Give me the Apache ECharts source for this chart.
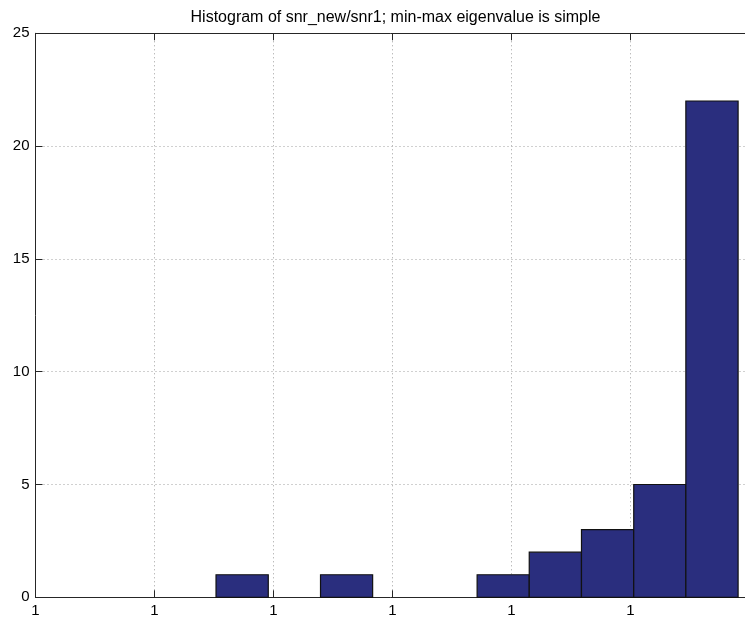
<!DOCTYPE html>
<html>
<head>
<meta charset="utf-8">
<script src="https://cdn.jsdelivr.net/npm/echarts@6/dist/echarts.min.js"></script>
<style>
html,body{margin:0;padding:0;background:#fff;}
#chart{width:745px;height:622px;}
</style>
</head>
<body>
<div id="chart"></div>
<script>
// Chart values (x positions in axis-tick units; every tick is labelled "1")
const titleText = "Histogram of snr_new/snr1; min-max eigenvalue is simple";
const binLeft  = [1.517, 1.956, 2.395, 2.833, 3.272, 3.711, 4.149, 4.588, 5.027, 5.465];
const binRight = [1.956, 2.395, 2.833, 3.272, 3.711, 4.149, 4.588, 5.027, 5.465, 5.904];
const counts   = [1, 0, 1, 0, 0, 1, 2, 3, 5, 22];
const xTickLabel = "1";
const yTicks = [0, 5, 10, 15, 20, 25];

const data = binLeft.map((l, i) => [l, binRight[i], counts[i]]);

const chart = echarts.init(document.getElementById('chart'), null, {renderer: 'canvas'});
const axisCol = '#262626';
const gridLine = {show: true, lineStyle: {color: '#a0a0a0', type: [1, 3], width: 1}};
const font = 'Liberation Sans, Arial, Helvetica, sans-serif';

chart.setOption({
  animation: false,
  backgroundColor: '#fff',
  title: {
    text: titleText, left: 390.5, top: 5, textAlign: 'center',
    textStyle: {fontFamily: font, fontSize: 16, fontWeight: 'normal', color: '#000'}
  },
  grid: {left: 35.5, right: 0, top: 33.3, bottom: 24.7, containLabel: false},
  xAxis: [{
    type: 'value', min: 0, max: 5.962, interval: 1, position: 'bottom',
    axisLine: {show: true, onZero: false, lineStyle: {color: axisCol, width: 1}},
    axisTick: {show: true, inside: true, length: 7, lineStyle: {color: axisCol}},
    axisLabel: {show: true, formatter: () => xTickLabel, margin: 6, color: '#000', fontSize: 15, fontFamily: font, showMaxLabel: false},
    splitLine: gridLine
  }, {
    type: 'value', min: 0, max: 5.962, interval: 1, position: 'top',
    axisLine: {show: true, onZero: false, lineStyle: {color: axisCol, width: 1}},
    axisTick: {show: true, inside: true, length: 7, lineStyle: {color: axisCol}},
    axisLabel: {show: false}, splitLine: {show: false}
  }],
  yAxis: {
    type: 'value', min: yTicks[0], max: yTicks[yTicks.length - 1], interval: 5,
    axisLine: {show: true, onZero: false, lineStyle: {color: axisCol, width: 1}},
    axisTick: {show: true, inside: true, length: 7, lineStyle: {color: axisCol}},
    axisLabel: {color: '#000', fontSize: 15, fontFamily: font, margin: 6},
    splitLine: gridLine
  },
  series: [{
    type: 'custom',
    xAxisIndex: 0,
    data: data,
    renderItem: function (params, api) {
      const c = api.value(2);
      if (c <= 0) return null;
      const p1 = api.coord([api.value(0), c]);
      const p2 = api.coord([api.value(1), 0]);
      return {
        type: 'rect',
        shape: {x: p1[0], y: p1[1], width: p2[0] - p1[0], height: p2[1] - p1[1]},
        style: {fill: '#2a2e7e', stroke: '#111111', lineWidth: 1.2}
      };
    },
    encode: {x: [0, 1], y: 2}
  }]
});
</script>
</body>
</html>
